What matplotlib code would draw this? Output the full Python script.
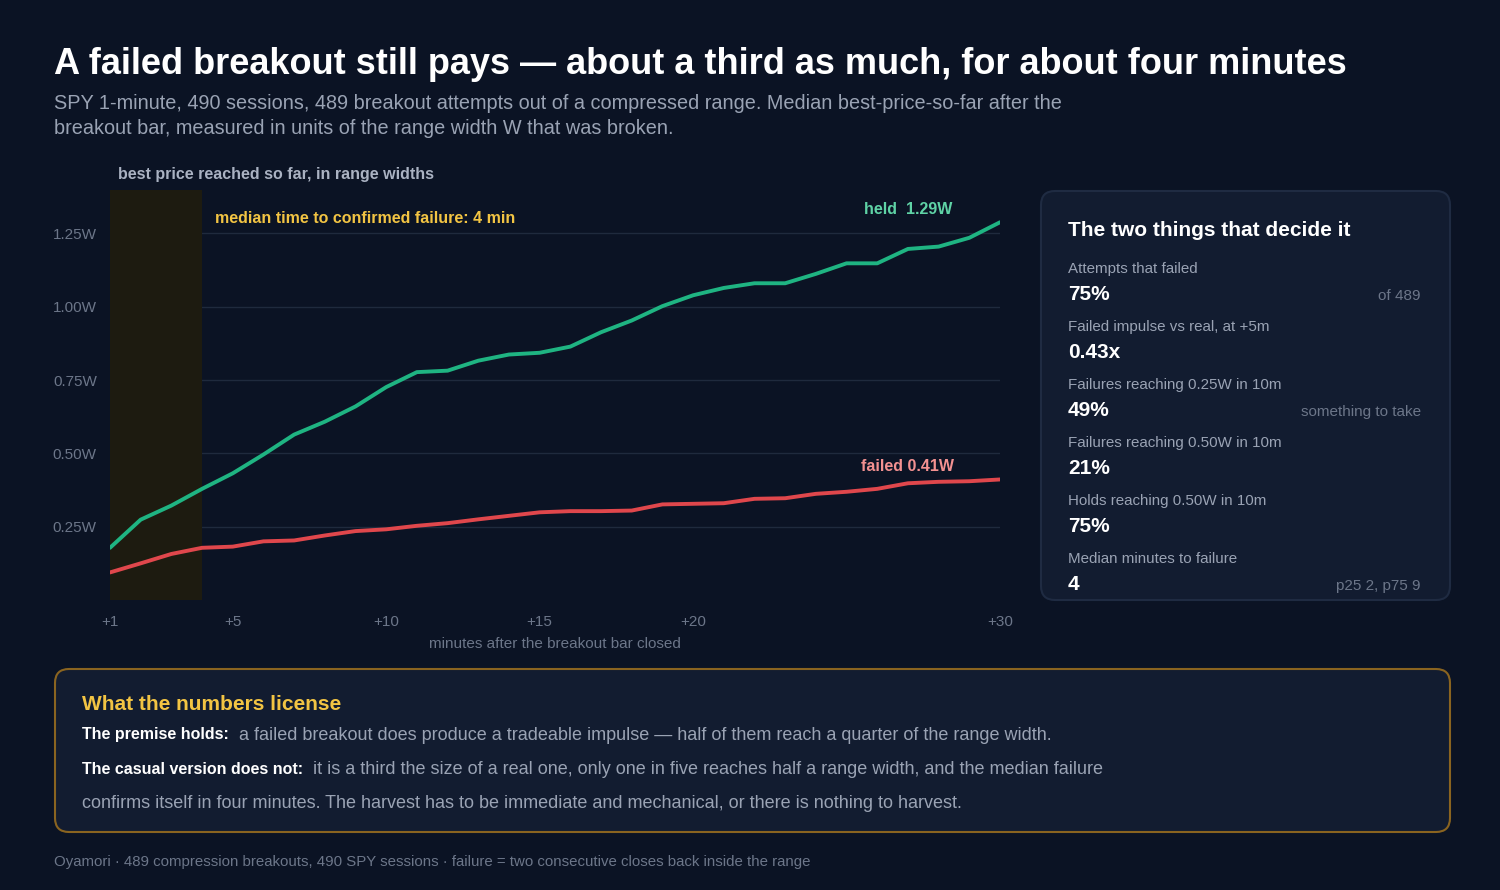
import numpy as np
import matplotlib.pyplot as plt
from matplotlib.patches import FancyBboxPatch, Rectangle

plt.rcParams['font.family'] = ['Liberation Sans', 'DejaVu Sans']

# data
minutes = np.arange(1, 31)
held = [0.178, 0.274, 0.322, 0.379, 0.432, 0.496, 0.564, 0.608, 0.660, 0.726,
        0.777, 0.782, 0.816, 0.837, 0.843, 0.864, 0.913, 0.953, 1.002, 1.039,
        1.064, 1.080, 1.080, 1.112, 1.148, 1.148, 1.197, 1.205, 1.235, 1.288]
failed = [0.094, 0.125, 0.157, 0.178, 0.182, 0.200, 0.203, 0.220, 0.235, 0.241,
          0.253, 0.262, 0.275, 0.287, 0.299, 0.303, 0.303, 0.305, 0.326, 0.328,
          0.330, 0.345, 0.347, 0.362, 0.369, 0.379, 0.398, 0.403, 0.405, 0.411]
median_fail_min = 4
yticks = [0.25, 0.50, 0.75, 1.00, 1.25]
xticks = [1, 5, 10, 15, 20, 30]

stat_labels = ['Attempts that failed', 'Failed impulse vs real, at +5m',
               'Failures reaching 0.25W in 10m', 'Failures reaching 0.50W in 10m',
               'Holds reaching 0.50W in 10m', 'Median minutes to failure']
stat_values = ['75%', '0.43x', '49%', '21%', '75%', '4']
stat_notes = ['of 489', '', 'something to take', '', '', 'p25 2, p75 9']

BG = '#0b1324'
PANEL = '#121c30'
GREEN = '#1fb482'
RED = '#e0474c'
YELLOW = '#f2c443'
GREY = '#9aa3b4'
DIM = '#6c7689'
GRID = '#1f2a3d'

W, H = 1500, 890
fig = plt.figure(figsize=(15, 8.9), dpi=100, facecolor=BG)

# background layer in pixel coordinates
bg = fig.add_axes([0, 0, 1, 1], zorder=0)
bg.set_xlim(0, W)
bg.set_ylim(H, 0)
bg.axis('off')

bg.text(54, 64, 'A failed breakout still pays \u2014 about a third as much, for about four minutes',
        color='white', fontsize=26, fontweight='bold', va='center')
bg.text(54, 116, 'SPY 1-minute, 490 sessions, 489 breakout attempts out of a compressed range. '
        'Median best-price-so-far after the\nbreakout bar, measured in units of the range width W that was broken.',
        color=GREY, fontsize=14.3, va='center', linespacing=1.45)
bg.text(118, 175, 'best price reached so far, in range widths', color='#aab2c2',
        fontsize=11.5, fontweight='bold', va='center')
bg.text(555, 644, 'minutes after the breakout bar closed', color=DIM, fontsize=11,
        ha='center', va='center')

# right panel
bg.add_patch(FancyBboxPatch((1041, 191), 409, 409, boxstyle='round,pad=0,rounding_size=14',
                            fc=PANEL, ec='#1f2b42', lw=1.5))
bg.text(1068, 230, 'The two things that decide it', color='white', fontsize=15,
        fontweight='bold', va='center')
for i, (lab, val, note) in enumerate(zip(stat_labels, stat_values, stat_notes)):
    y0 = 269 + 58 * i
    bg.text(1068, y0, lab, color=GREY, fontsize=10.9, va='center')
    bg.text(1068, y0 + 26, val, color='white', fontsize=15, fontweight='bold', va='center')
    if note:
        bg.text(1421, y0 + 27, note, color=DIM, fontsize=11, va='center', ha='right')

# bottom box
bg.add_patch(FancyBboxPatch((55, 669), 1395, 163, boxstyle='round,pad=0,rounding_size=14',
                            fc=PANEL, ec='#8a6420', lw=1.5))
bg.text(82, 705, 'What the numbers license', color=YELLOW, fontsize=15,
        fontweight='bold', va='center')
renderer = fig.canvas.get_renderer()
rows = [('The premise holds:', 'a failed breakout does produce a tradeable impulse \u2014 '
         'half of them reach a quarter of the range width.', 735),
        ('The casual version does not:', 'it is a third the size of a real one, only one in five '
         'reaches half a range width, and the median failure', 769)]
for head, body, y0 in rows:
    t = bg.text(82, y0, head, color='white', fontsize=11.5, fontweight='bold', va='center')
    bb = t.get_window_extent(renderer=renderer)
    bg.text(bb.x1 + 10, y0 + 1, body, color=GREY, fontsize=13, va='center')
bg.text(82, 803, 'confirms itself in four minutes. The harvest has to be immediate and mechanical, '
        'or there is nothing to harvest.', color=GREY, fontsize=13, va='center')

bg.text(54, 862, 'Oyamori \u00b7 489 compression breakouts, 490 SPY sessions \u00b7 '
        'failure = two consecutive closes back inside the range', color=DIM, fontsize=10.85,
        va='center')

# main chart
ax = fig.add_axes([110 / W, (H - 600) / H, 890 / W, 410 / H], zorder=1)
ax.set_facecolor('none')
ax.set_xlim(1, 30)
ax.set_ylim(0, 1.398)
for s in ax.spines.values():
    s.set_visible(False)
ax.set_yticks(yticks)
ax.set_yticklabels([f'{v:.2f}W' for v in yticks])
ax.set_xticks(xticks)
ax.set_xticklabels([f'+{v}' for v in xticks])
ax.tick_params(length=0, colors=DIM, labelsize=11)
ax.tick_params(axis='y', pad=9.5)
ax.tick_params(axis='x', pad=10.5)
ax.grid(axis='y', color=GRID, lw=1)
ax.set_axisbelow(True)

ax.add_patch(Rectangle((1, 0), median_fail_min - 1, 1.398, fc='#1d1b10', ec='none', zorder=1))
ax.plot(minutes, held, color=GREEN, lw=2.8, zorder=3, solid_capstyle='round')
ax.plot(minutes, failed, color=RED, lw=2.8, zorder=3, solid_capstyle='round')

ax.text(median_fail_min + 0.42, 1.30, f'median time to confirmed failure: {median_fail_min} min',
        color=YELLOW, fontsize=11.5, fontweight='bold', va='center')
ax.text(28.45, 1.33, f'held  {held[-1]:.2f}W', color='#5fd3a6', fontsize=11.5,
        fontweight='bold', va='center', ha='right')
ax.text(28.5, 0.455, f'failed {failed[-1]:.2f}W', color='#f39191', fontsize=11.5,
        fontweight='bold', va='center', ha='right')

fig.savefig('out.png', dpi=100, facecolor=BG)
